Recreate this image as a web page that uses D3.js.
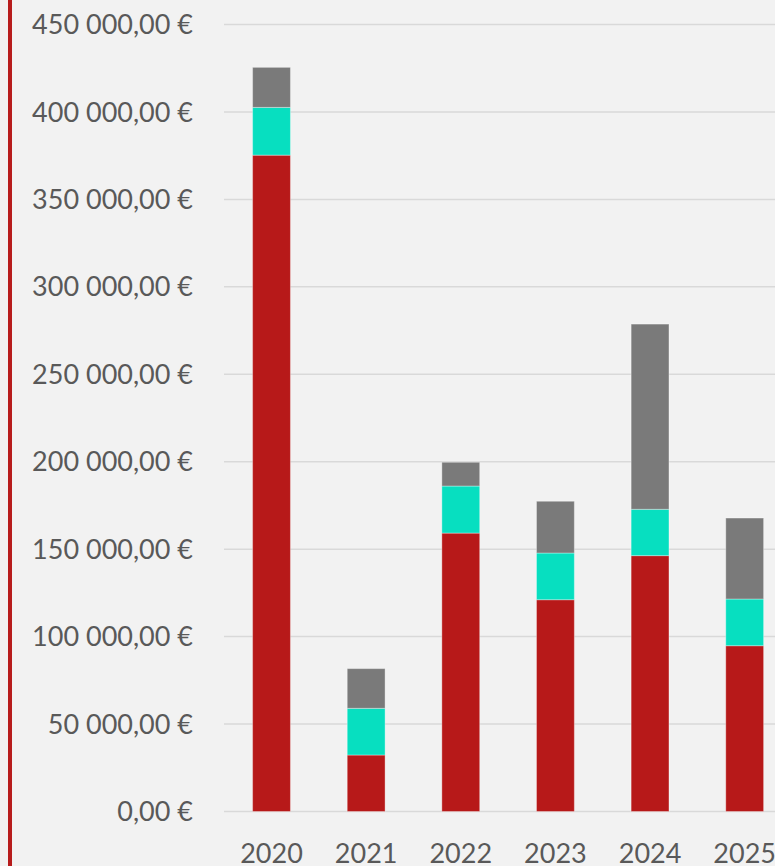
<!DOCTYPE html>
<html>
<head>
<meta charset="utf-8">
<script src="https://cdn.jsdelivr.net/npm/d3@7"></script>
<style>
  html, body { margin: 0; padding: 0; background: #f2f2f2; }
  svg { display: block; }
</style>
</head>
<body>
<svg id="chart" width="775" height="866"></svg>
<script>
const categories = ["2020", "2021", "2022", "2023", "2024", "2025"];
const seriesNames = ["base", "middle", "top"];
const baseValues   = [375300, 32300, 159200, 121100, 146300, 94800];
const middleValues = [27300, 26700, 26900, 26700, 26500, 26700];
const topValues    = [22900, 22700, 13600, 29600, 105900, 46300];
const yTicks = [0, 50000, 100000, 150000, 200000, 250000, 300000, 350000, 400000, 450000];
const colors = ["#b71919", "#07dfc0", "#7a7a7a"];

const svg = d3.select("#chart");
const W = 775, H = 866;

svg.append("rect").attr("width", W).attr("height", H).attr("fill", "#f2f2f2");

const x = d3.scaleBand().domain(categories).range([224.2, 792]).paddingInner(0.6).paddingOuter(0.3);
const y = d3.scaleLinear().domain([0, 450000]).range([811.5, 24.5]);

// gridlines
svg.append("g").selectAll("line").data(yTicks).join("line")
  .attr("x1", 224).attr("x2", W)
  .attr("y1", d => y(d)).attr("y2", d => y(d))
  .attr("stroke", "#d9d9d9").attr("stroke-width", 1.5);

// y labels
const fmt = v => {
  const s = d3.format(",.2f")(v).replace(/,/g, " ").replace(".", ",");
  return s + " €";
};
svg.append("g").selectAll("text").data(yTicks).join("text")
  .attr("x", 193).attr("y", d => y(d) + 9.6)
  .attr("text-anchor", "end")
  .attr("font-family", "Lato, 'Open Sans', sans-serif")
  .attr("font-size", 27)
  .attr("fill", "#595959")
  .text(fmt);

// stack
const rows = categories.map((c, i) => ({ cat: c, base: baseValues[i], middle: middleValues[i], top: topValues[i] }));
const stacked = d3.stack().keys(seriesNames)(rows);

svg.append("g").selectAll("g").data(stacked).join("g")
  .attr("fill", (d, i) => colors[i])
  .selectAll("rect").data(d => d).join("rect")
  .attr("x", d => x(d.data.cat))
  .attr("width", x.bandwidth())
  .attr("y", d => y(d[1]))
  .attr("height", d => y(d[0]) - y(d[1]))
  .attr("stroke", "rgba(255,255,255,0.35)")
  .attr("stroke-width", 1);

// x labels
svg.append("g").selectAll("text").data(categories).join("text")
  .attr("x", d => x(d) + x.bandwidth() / 2)
  .attr("y", 862.5)
  .attr("text-anchor", "middle")
  .attr("font-family", "Lato, 'Open Sans', sans-serif")
  .attr("font-size", 27)
  .attr("fill", "#595959")
  .text(d => d);

// left red border
svg.append("rect").attr("x", 8).attr("y", 0).attr("width", 4).attr("height", H).attr("fill", "#b71c1c");
</script>
</body>
</html>
